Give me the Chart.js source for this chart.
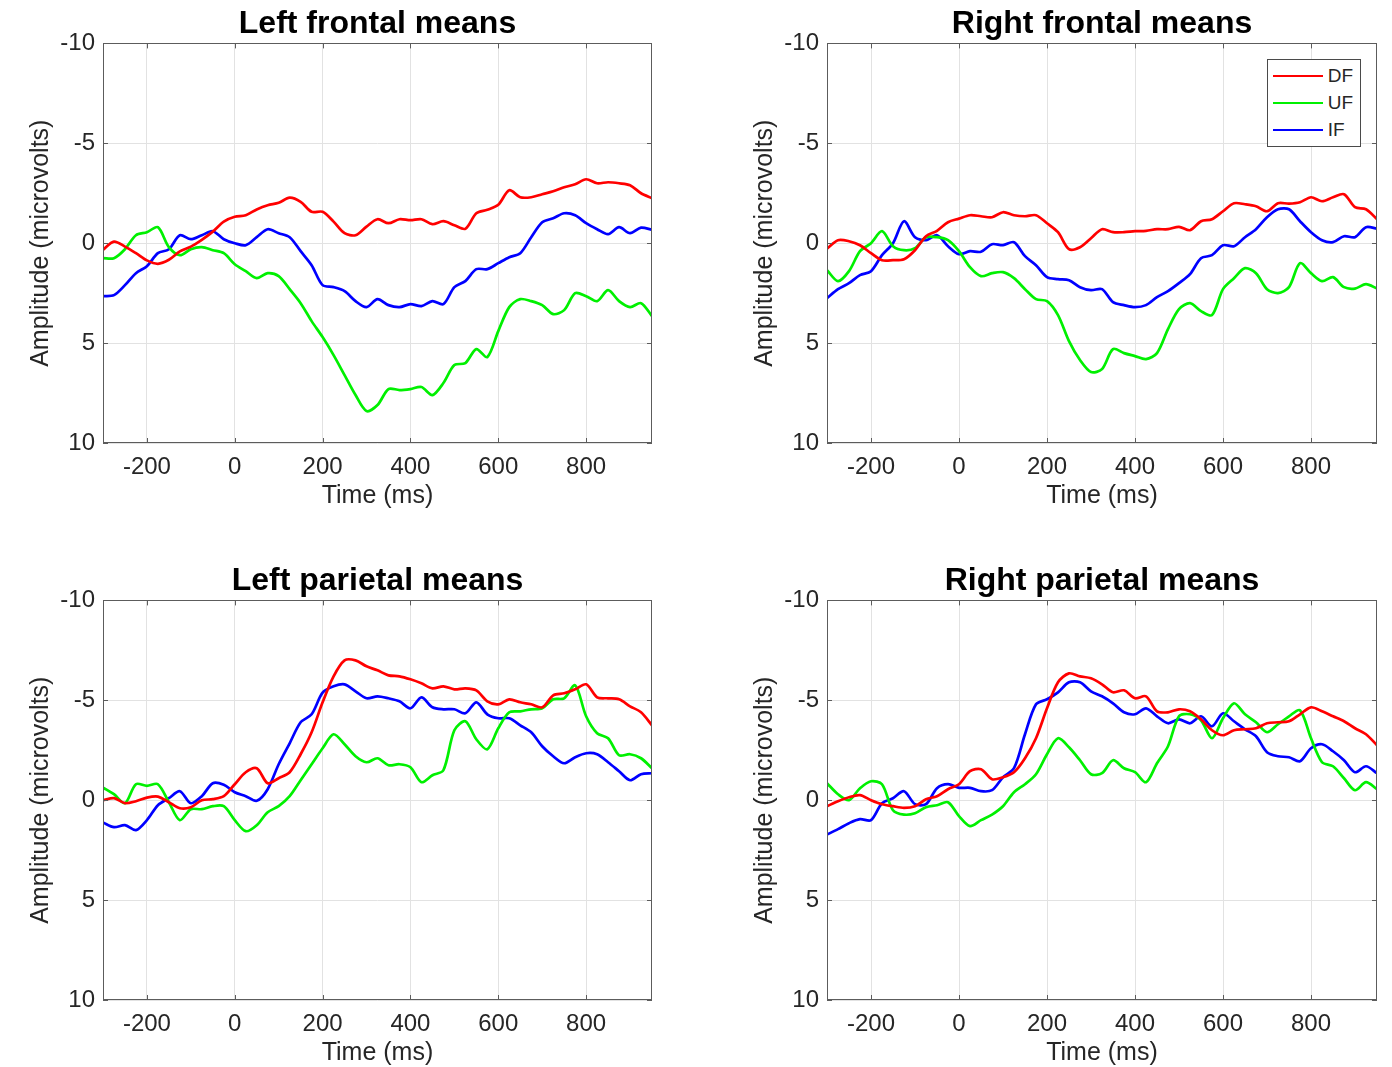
<!DOCTYPE html>
<html>
<head>
<meta charset="utf-8">
<script src="https://cdn.jsdelivr.net/npm/chart.js@4.4.1/dist/chart.umd.min.js"></script>
<style>
html,body{margin:0;padding:0;background:#fff;overflow:hidden;width:1392px;height:1067px;}
.wrap{position:absolute;width:668px;height:511px;}
.legend{position:absolute;background:#fff;border:1px solid #4a4a4a;padding:2px 7px 3px 5px;font-family:"Liberation Sans",Arial,Helvetica,sans-serif;font-size:19px;color:#262626;}
.legend .row{display:flex;align-items:center;height:27px;}
.legend .ln{display:inline-block;width:50px;height:2.5px;margin-right:5px;}
</style>
</head>
<body>
<div class="wrap" style="left:0;top:0"><canvas id="c0"></canvas></div>
<div class="wrap" style="left:724px;top:0"><canvas id="c1"></canvas></div>
<div class="wrap" style="left:0;top:557px"><canvas id="c2"></canvas></div>
<div class="wrap" style="left:724px;top:557px"><canvas id="c3"></canvas></div>
<script>
// ---- Data ----
const TIMES = [-300,-275,-250,-225,-200,-175,-150,-125,-100,-75,-50,-25,0,25,50,75,100,125,150,175,200,225,250,275,300,325,350,375,400,425,450,475,500,525,550,575,600,625,650,675,700,725,750,775,800,825,850,875,900,925,950];
const X_TICKS = [-200,0,200,400,600,800];
const Y_TICKS = [-10,-5,0,5,10];
const SERIES_NAMES = ['DF','UF','IF'];
const PANEL_TITLES = ['Left frontal means','Right frontal means','Left parietal means','Right parietal means'];

const LF_DF = [0.33,-0.08,0.17,0.5,0.86,1.03,0.83,0.41,0.17,-0.17,-0.58,-1.08,-1.32,-1.4,-1.69,-1.9,-2.02,-2.28,-2.07,-1.57,-1.57,-1.08,-0.5,-0.4,-0.83,-1.2,-1.0,-1.2,-1.15,-1.2,-0.95,-1.1,-0.9,-0.72,-1.5,-1.67,-1.92,-2.65,-2.3,-2.3,-2.45,-2.6,-2.8,-2.95,-3.2,-3.0,-3.05,-3.0,-2.9,-2.5,-2.25];
const LF_UF = [0.75,0.75,0.3,-0.4,-0.55,-0.8,0.2,0.6,0.3,0.2,0.35,0.5,1.05,1.4,1.75,1.5,1.65,2.3,3.0,3.9,4.7,5.6,6.6,7.6,8.4,8.1,7.3,7.35,7.3,7.2,7.6,7.0,6.1,6.0,5.3,5.7,4.4,3.2,2.8,2.9,3.1,3.55,3.35,2.5,2.65,2.9,2.35,2.9,3.2,3.0,3.65];
const LF_IF = [2.65,2.6,2.1,1.5,1.15,0.5,0.3,-0.4,-0.2,-0.4,-0.6,-0.2,0.0,0.1,-0.3,-0.7,-0.5,-0.3,0.4,1.1,2.1,2.2,2.4,2.9,3.2,2.8,3.1,3.2,3.05,3.15,2.9,3.05,2.2,1.9,1.3,1.3,1.0,0.7,0.5,-0.3,-1.05,-1.25,-1.5,-1.4,-1.0,-0.7,-0.45,-0.8,-0.5,-0.78,-0.67];

const RF_DF = [0.27,-0.15,-0.1,0.1,0.5,0.85,0.85,0.8,0.35,-0.35,-0.62,-1.05,-1.23,-1.4,-1.35,-1.3,-1.55,-1.4,-1.35,-1.4,-1.0,-0.55,0.3,0.2,-0.25,-0.7,-0.55,-0.55,-0.6,-0.62,-0.7,-0.7,-0.82,-0.65,-1.1,-1.2,-1.6,-2.0,-1.95,-1.85,-1.6,-2.0,-1.98,-2.05,-2.3,-2.1,-2.3,-2.45,-1.8,-1.7,-1.2];
const RF_UF = [1.35,1.9,1.4,0.4,0.0,-0.6,0.15,0.35,0.25,-0.3,-0.3,-0.15,0.4,1.2,1.65,1.5,1.45,1.75,2.3,2.8,2.9,3.6,4.9,5.85,6.45,6.3,5.3,5.5,5.65,5.8,5.5,4.3,3.3,3.0,3.4,3.6,2.3,1.75,1.25,1.5,2.3,2.5,2.2,1.0,1.5,1.9,1.7,2.2,2.27,2.05,2.27];
const RF_IF = [2.75,2.3,2.0,1.6,1.4,0.6,0.0,-1.1,-0.3,-0.15,-0.4,0.15,0.55,0.4,0.43,0.05,0.1,-0.05,0.65,1.1,1.7,1.8,1.85,2.2,2.35,2.3,2.95,3.1,3.2,3.1,2.7,2.4,2.0,1.55,0.75,0.6,0.1,0.15,-0.3,-0.7,-1.3,-1.7,-1.7,-1.1,-0.55,-0.15,-0.05,-0.35,-0.3,-0.8,-0.73];

const LP_DF = [0.0,-0.1,0.15,0.05,-0.13,-0.18,0.1,0.4,0.35,0.0,-0.05,-0.2,-0.8,-1.4,-1.6,-0.85,-1.1,-1.4,-2.3,-3.4,-4.9,-6.2,-7.0,-7.0,-6.7,-6.5,-6.25,-6.2,-6.05,-5.85,-5.6,-5.7,-5.55,-5.6,-5.5,-4.95,-4.8,-5.05,-4.9,-4.8,-4.65,-5.25,-5.35,-5.55,-5.8,-5.15,-5.1,-5.05,-4.7,-4.4,-3.75];
const LP_UF = [-0.63,-0.3,0.15,-0.8,-0.72,-0.8,0.1,1.0,0.45,0.45,0.3,0.3,1.0,1.55,1.25,0.6,0.3,-0.2,-1.0,-1.8,-2.6,-3.3,-2.8,-2.2,-1.9,-2.1,-1.75,-1.8,-1.65,-0.9,-1.25,-1.5,-3.5,-3.95,-3.05,-2.55,-3.6,-4.4,-4.45,-4.55,-4.6,-5.05,-5.1,-5.75,-4.2,-3.35,-3.1,-2.25,-2.3,-2.1,-1.6];
const LP_IF = [1.12,1.35,1.25,1.5,1.0,0.25,-0.1,-0.45,0.15,-0.2,-0.85,-0.77,-0.4,-0.2,0.03,-0.55,-1.8,-2.85,-3.9,-4.3,-5.38,-5.7,-5.8,-5.45,-5.1,-5.2,-5.1,-4.95,-4.6,-5.15,-4.65,-4.55,-4.55,-4.35,-4.9,-4.3,-4.1,-4.1,-3.75,-3.4,-2.7,-2.2,-1.85,-2.15,-2.35,-2.3,-1.9,-1.45,-1.0,-1.3,-1.35];

const RP_DF = [0.3,0.05,-0.15,-0.25,0.0,0.2,0.3,0.38,0.3,-0.05,-0.2,-0.55,-0.8,-1.45,-1.55,-1.05,-1.15,-1.4,-2.1,-3.1,-4.6,-5.9,-6.35,-6.2,-6.1,-5.8,-5.4,-5.5,-5.1,-5.2,-4.45,-4.4,-4.55,-4.45,-4.05,-3.5,-3.25,-3.5,-3.55,-3.6,-3.85,-3.9,-3.95,-4.3,-4.65,-4.45,-4.2,-3.95,-3.6,-3.3,-2.75];
const RP_UF = [-0.85,-0.3,0.0,-0.6,-0.95,-0.8,0.5,0.72,0.65,0.35,0.25,0.1,0.8,1.3,1.0,0.72,0.3,-0.4,-0.8,-1.3,-2.3,-3.1,-2.65,-2.0,-1.3,-1.35,-2.0,-1.6,-1.4,-0.9,-1.85,-2.7,-4.2,-4.3,-4.0,-3.1,-4.1,-4.85,-4.3,-3.9,-3.4,-3.8,-4.2,-4.5,-3.1,-1.9,-1.7,-1.1,-0.5,-0.9,-0.55];
const RP_IF = [1.72,1.45,1.15,0.95,1.0,0.15,-0.1,-0.45,0.2,0.2,-0.6,-0.8,-0.62,-0.62,-0.45,-0.5,-1.15,-1.6,-3.3,-4.8,-5.05,-5.4,-5.9,-5.9,-5.45,-5.2,-4.85,-4.4,-4.3,-4.6,-4.2,-3.85,-4.05,-3.85,-4.2,-3.7,-4.35,-3.95,-3.55,-3.2,-2.4,-2.2,-2.15,-1.95,-2.6,-2.8,-2.45,-2.0,-1.4,-1.7,-1.35];

const COLORS = ['#ff0000','#00f000','#0000ff'];
const FONT = '"Liberation Sans", Arial, Helvetica, sans-serif';
const TXT = '#262626';

// ---- axes box + inward tick marks (MATLAB style) ----
const boxPlugin = {
  id: 'axbox',
  afterDatasetsDraw(chart) {
    const {ctx, chartArea: a, scales: {x, y}} = chart;
    ctx.save();
    ctx.strokeStyle = '#5c5c5c';
    ctx.lineWidth = 1;
    ctx.beginPath();
    x.ticks.forEach(t => {
      const px = Math.round(x.getPixelForValue(t.value)) + 0.5;
      ctx.moveTo(px, a.bottom); ctx.lineTo(px, a.bottom - 5);
      ctx.moveTo(px, a.top); ctx.lineTo(px, a.top + 5);
    });
    y.ticks.forEach(t => {
      const py = Math.round(y.getPixelForValue(t.value)) + 0.5;
      ctx.moveTo(a.left, py); ctx.lineTo(a.left + 5, py);
      ctx.moveTo(a.right, py); ctx.lineTo(a.right - 5, py);
    });
    ctx.stroke();
    ctx.strokeRect(Math.round(a.left) + 0.5, Math.round(a.top) + 0.5, Math.round(a.width) - 1, Math.round(a.height) - 1);
    ctx.restore();
  }
};

function makeChart(id, title, series, padRight) {
  const datasets = series.map((vals, i) => ({
    label: SERIES_NAMES[i],
    data: TIMES.map((t, k) => ({x: t, y: vals[k]})),
    borderColor: COLORS[i],
    backgroundColor: COLORS[i],
    borderWidth: 2.7,
    pointRadius: 0,
    tension: 0.3,
    fill: false
  }));
  return new Chart(document.getElementById(id), {
    type: 'line',
    data: {datasets},
    plugins: [boxPlugin],
    options: {
      responsive: true,
      maintainAspectRatio: false,
      animation: false,
      layout: {padding: {left: 20, right: padRight, top: 0, bottom: 0}},
      plugins: {
        legend: {display: false},
        tooltip: {enabled: false},
        title: {
          display: true, text: title, fullSize: false,
          color: '#000', font: {family: FONT, size: 32, weight: 'bold', lineHeight: 1.2},
          padding: {top: 5, bottom: 0}
        }
      },
      scales: {
        x: {
          type: 'linear', min: -300, max: 950,
          afterBuildTicks: s => { s.ticks = X_TICKS.map(v => ({value: v})); },
          afterFit: s => { s.height = 68; },
          grid: {color: '#e2e2e2', lineWidth: 1, drawTicks: false},
          border: {display: false},
          ticks: {color: TXT, font: {family: FONT, size: 24}, padding: 10, maxRotation: 0},
          title: {display: true, text: 'Time (ms)', color: TXT, font: {family: FONT, size: 25}, padding: {top: 2, bottom: 0}}
        },
        y: {
          reverse: true, min: -10, max: 10,
          afterBuildTicks: s => { s.ticks = Y_TICKS.map(v => ({value: v})); },
          afterFit: s => { s.width = 83; },
          grid: {color: '#e2e2e2', lineWidth: 1, drawTicks: false},
          border: {display: false},
          ticks: {color: TXT, font: {family: FONT, size: 24}, padding: 8},
          title: {display: true, text: 'Amplitude (microvolts)', color: TXT, font: {family: FONT, size: 25}, padding: {top: 6, bottom: 0}}
        }
      }
    }
  });
}

const charts = [
  makeChart('c0', PANEL_TITLES[0], [LF_DF, LF_UF, LF_IF], 16),
  makeChart('c1', PANEL_TITLES[1], [RF_DF, RF_UF, RF_IF], 15),
  makeChart('c2', PANEL_TITLES[2], [LP_DF, LP_UF, LP_IF], 16),
  makeChart('c3', PANEL_TITLES[3], [RP_DF, RP_UF, RP_IF], 15)
];

// legend (HTML, built from the chart's datasets) inside the right-frontal axes
(function addLegend(chart) {
  const a = chart.chartArea;
  const wrap = chart.canvas.parentNode;
  const box = document.createElement('div');
  box.className = 'legend';
  chart.data.datasets.forEach(ds => {
    const row = document.createElement('div');
    row.className = 'row';
    const ln = document.createElement('span');
    ln.className = 'ln';
    ln.style.background = ds.borderColor;
    const tx = document.createElement('span');
    tx.textContent = ds.label;
    row.appendChild(ln); row.appendChild(tx);
    box.appendChild(row);
  });
  wrap.appendChild(box);
  box.style.right = (wrap.clientWidth - a.right + 16) + 'px';
  box.style.top = (a.top + 16) + 'px';
})(charts[1]);
</script>
</body>
</html>
